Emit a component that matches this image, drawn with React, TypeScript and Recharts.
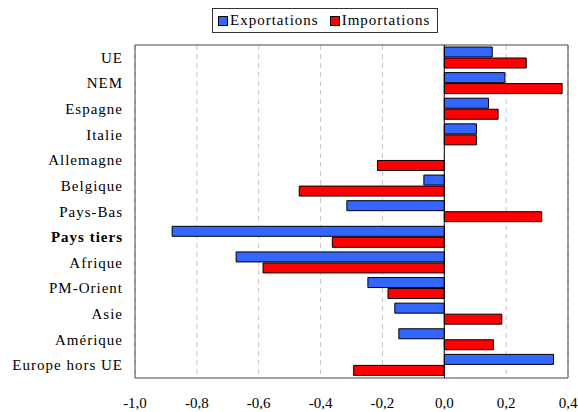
import {
  BarChart,
  Bar,
  XAxis,
  YAxis,
  CartesianGrid,
  ReferenceLine,
  ReferenceArea,
} from "recharts";

const categories = [
  "UE",
  "NEM",
  "Espagne",
  "Italie",
  "Allemagne",
  "Belgique",
  "Pays-Bas",
  "Pays tiers",
  "Afrique",
  "PM-Orient",
  "Asie",
  "Amérique",
  "Europe hors UE",
];

const exportations = [0.155, 0.196, 0.143, 0.104, 0, -0.066, -0.315, -0.88, -0.673, -0.247, -0.16, -0.147, 0.353];
const importations = [0.265, 0.381, 0.174, 0.104, -0.216, -0.469, 0.315, -0.362, -0.586, -0.182, 0.186, 0.159, -0.293];

const xTicks = [-1, -0.8, -0.6, -0.4, -0.2, 0, 0.2, 0.4];

const BOLD = ["Pays tiers"];
const FONT = "Liberation Serif, Tinos, DejaVu Serif, serif";
const BLUE = "#3366ff";
const RED = "#ff0000";

const data = categories.map((name, i) => ({
  name,
  exp: exportations[i],
  imp: importations[i],
}));

// "-0.8" -> "-0,8"
function fmt(v: number): string {
  return v.toFixed(1).replace(".", ",");
}

// eslint-disable-next-line @typescript-eslint/no-explicit-any
function CategoryTick(props: any) {
  const { x, y, payload } = props;
  const bold = BOLD.includes(payload.value);
  return (
    <text
      x={x - 4}
      y={y}
      dy={5}
      textAnchor="end"
      style={{ fontFamily: FONT, fontSize: 15, letterSpacing: 1, fontWeight: bold ? "bold" : "normal" }}
      fill="#000"
    >
      {payload.value}
    </text>
  );
}

// eslint-disable-next-line @typescript-eslint/no-explicit-any
function ValueTick(props: any) {
  const { x, y, payload } = props;
  return (
    <text x={x} y={y} dy={22} textAnchor="middle" style={{ fontFamily: FONT, fontSize: 15 }} fill="#000">
      {fmt(payload.value)}
    </text>
  );
}

function LegendBox() {
  const items = [
    { label: "Exportations", color: BLUE },
    { label: "Importations", color: RED },
  ];
  return (
    <div
      style={{
        position: "absolute",
        left: 212,
        top: 8,
        display: "flex",
        alignItems: "center",
        gap: 11,
        border: "1px solid #333",
        padding: "3px 7px 3px 5px",
        fontFamily: FONT,
        fontSize: 15,
        letterSpacing: 1,
        background: "#fff",
        lineHeight: "17px",
      }}
    >
      {items.map((it) => (
        <span key={it.label} style={{ display: "inline-flex", alignItems: "center", gap: 2 }}>
          <span
            style={{
              width: 8,
              height: 8,
              background: it.color,
              border: "1px solid #000",
              display: "inline-block",
            }}
          />
          {it.label}
        </span>
      ))}
    </div>
  );
}

export default function App() {
  return (
    <div style={{ position: "absolute", left: 0, top: 0, width: 578, height: 412, background: "#fff" }}>
      <BarChart
        width={578}
        height={412}
        data={data}
        layout="vertical"
        margin={{ top: 45, right: 10, bottom: 0, left: 0 }}
        barSize={10}
        barGap={1}
      >
        <CartesianGrid horizontal={false} strokeDasharray="5 4" stroke="#c4c4c4" />
        <XAxis
          type="number"
          domain={[-1, 0.4]}
          ticks={xTicks}
          axisLine={false}
          tickLine={false}
          height={34}
          tick={<ValueTick />}
        />
        <YAxis
          type="category"
          dataKey="name"
          width={135}
          axisLine={false}
          tickLine={false}
          interval={0}
          tick={<CategoryTick />}
        />
        <ReferenceArea x1={-1} x2={0.4} fill="none" stroke="#444" strokeWidth={1} />
        <Bar dataKey="exp" fill={BLUE} stroke="#000" strokeWidth={1} isAnimationActive={false} />
        <Bar dataKey="imp" fill={RED} stroke="#000" strokeWidth={1} isAnimationActive={false} />
        <ReferenceLine x={0} stroke="#000" strokeWidth={1} />
      </BarChart>
      <LegendBox />
    </div>
  );
}
